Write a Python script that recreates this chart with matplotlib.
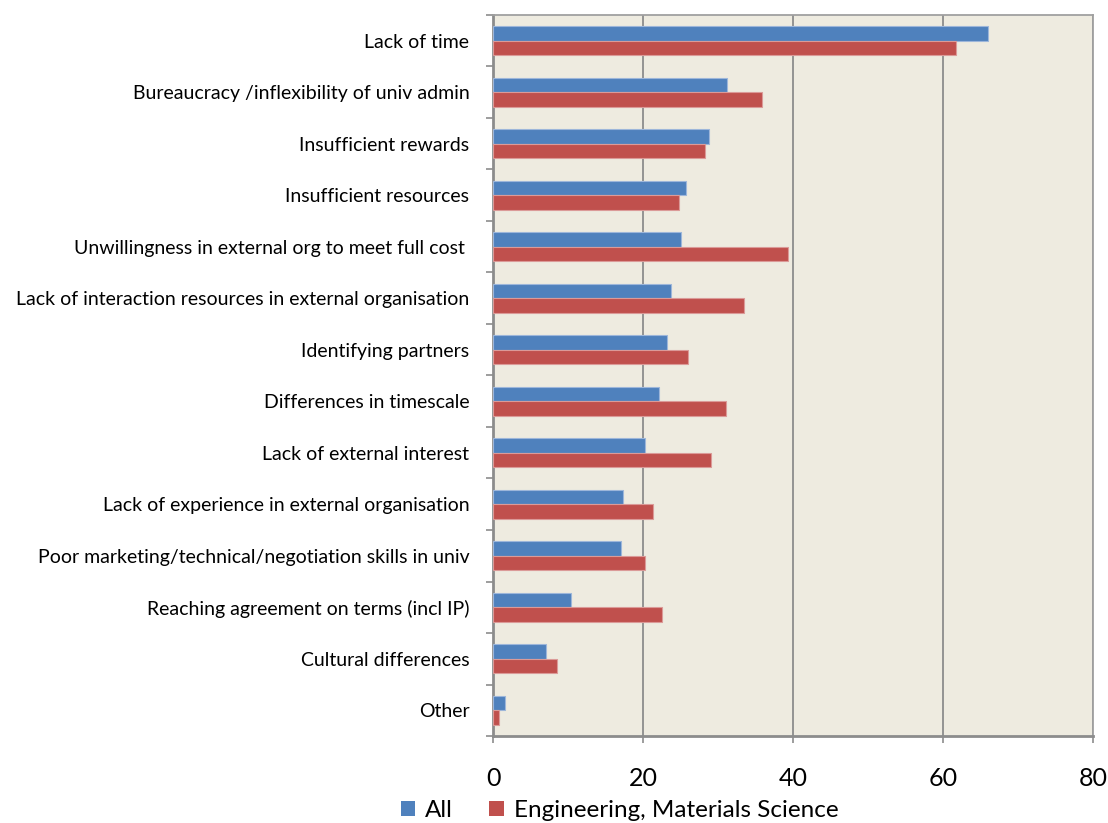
import numpy as np
import matplotlib.pyplot as plt
from matplotlib.patches import Patch

plt.rcParams['font.family'] = ['Lato', 'DejaVu Sans']

# -------------------------------
# Survey data (% of respondents)
# -------------------------------
categories = [
    'Lack of time',
    'Bureaucracy /inflexibility of univ admin',
    'Insufficient rewards',
    'Insufficient resources',
    'Unwillingness in external org to meet full cost ',
    'Lack of interaction resources in external organisation',
    'Identifying partners',
    'Differences in timescale',
    'Lack of external interest',
    'Lack of experience in external organisation',
    'Poor marketing/technical/negotiation skills in univ',
    'Reaching agreement on terms (incl IP)',
    'Cultural differences',
    'Other',
]
all_vals = [66.0, 31.2, 28.8, 25.7, 25.1, 23.7, 23.2, 22.1, 20.2, 17.3, 17.1, 10.4, 7.0, 1.6]
eng_vals = [61.7, 35.9, 28.3, 24.8, 39.3, 33.4, 26.0, 31.0, 29.1, 21.3, 20.3, 22.5, 8.5, 0.8]
series_names = ['All', 'Engineering, Materials Science']

blue = '#4F81BD'
red = '#C0504D'
grid_c = '#8C8C8C'

fig = plt.figure(figsize=(11.08, 8.23), dpi=100)
ax = fig.add_axes([0.445, 0.1057, 0.5415, 0.8761])
ax.set_facecolor('#EEEBE0')

n = len(categories)
y = np.arange(n)
h = 0.28
ax.barh(y - h / 2, all_vals, height=h, color=blue, edgecolor='#9DB6DA', linewidth=0.8, zorder=3)
ax.barh(y + h / 2, eng_vals, height=h, color=red, edgecolor='#DB9A98', linewidth=0.8, zorder=3)

ax.set_xlim(0, 80)
ax.set_ylim(n - 0.5, -0.5)
ax.set_xticks([0, 20, 40, 60, 80])
ax.tick_params(axis='x', length=5, width=1.2, color=grid_c, pad=17, labelsize=18)

# category labels centred, ticks on the boundaries
ax.set_yticks(np.arange(n + 1) - 0.5)
ax.set_yticklabels([])
ax.set_yticks(y, minor=True)
ax.set_yticklabels(categories, minor=True, fontsize=14)
ax.tick_params(axis='y', which='major', length=5, width=1.2, color=grid_c)
ax.tick_params(axis='y', which='minor', length=0, pad=17)

ax.xaxis.grid(True, color=grid_c, linewidth=1.3, zorder=1)
for s in ax.spines.values():
    s.set_color('#A0A0A0')
    s.set_linewidth(1.3)
ax.spines['left'].set_color(grid_c)
ax.spines['bottom'].set_color(grid_c)
ax.spines['left'].set_linewidth(2)
ax.spines['bottom'].set_linewidth(2)

handles = [Patch(facecolor=blue), Patch(facecolor=red)]
fig.legend(handles, series_names, loc='center', bbox_to_anchor=(0.559, 0.015),
           ncol=2, frameon=False, fontsize=17.5, handlelength=0.6, handleheight=0.6,
           handletextpad=0.4, columnspacing=1.5, borderaxespad=0)

fig.savefig('out.png', dpi=100)
